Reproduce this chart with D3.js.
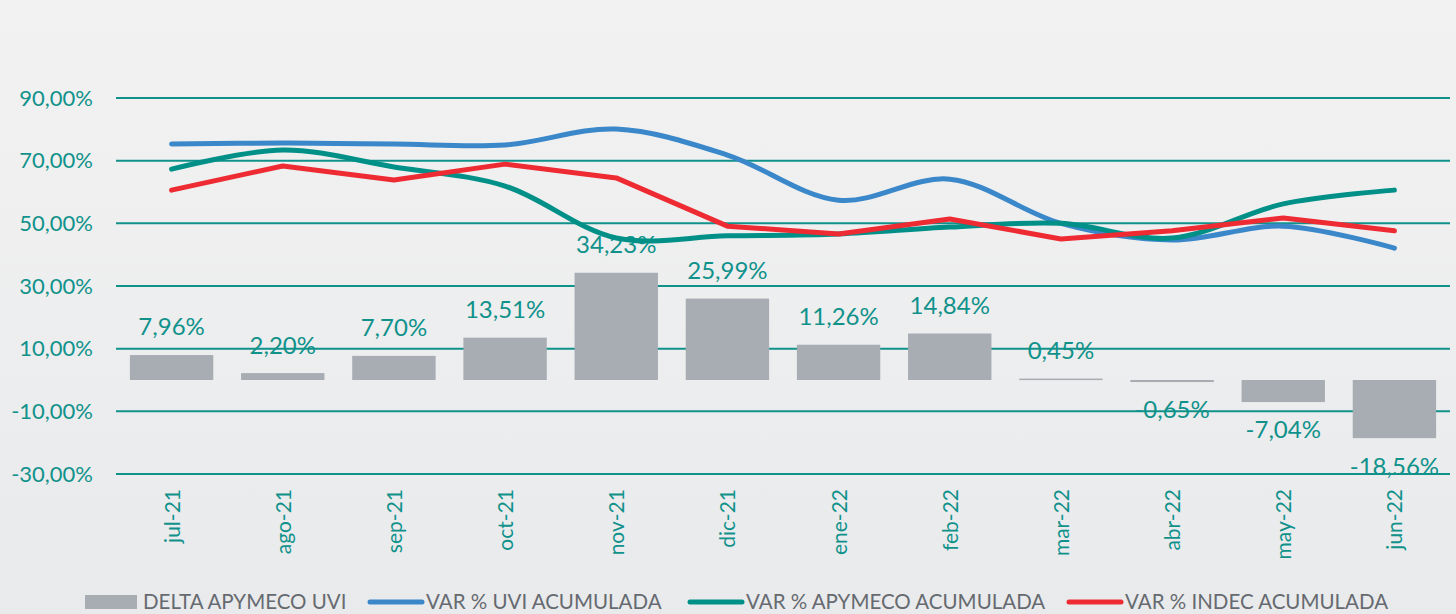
<!DOCTYPE html>
<html>
<head>
<meta charset="utf-8">
<script src="https://cdn.jsdelivr.net/npm/d3@7"></script>
<style>
  body { margin: 0; background: #eeeeef; }
  svg { display: block; font-family: Lato, "Open Sans", sans-serif; }
</style>
</head>
<body>
<div id="chart"></div>
<script>
// months on the x axis
const months = ["jul-21", "ago-21", "sep-21", "oct-21", "nov-21", "dic-21",
                "ene-22", "feb-22", "mar-22", "abr-22", "may-22", "jun-22"];
// bars
const deltaApymeco = [7.96, 2.20, 7.70, 13.51, 34.23, 25.99, 11.26, 14.84, 0.45, -0.65, -7.04, -18.56];
// lines
const uviAcum = [75.3, 75.6, 75.3, 75.0, 80.1, 71.8, 57.4, 64.1, 50.0, 44.7, 49.1, 42.1];
const apymecoAcum = [67.3, 73.4, 68.0, 61.9, 45.3, 46.0, 46.6, 48.8, 50.0, 45.3, 56.2, 60.6];
const indecAcum = [60.6, 68.3, 63.8, 68.9, 64.5, 49.1, 46.6, 51.4, 45.0, 47.6, 51.7, 47.6];
const yTicks = [-30, -10, 10, 30, 50, 70, 90];
const legendLabels = ["DELTA APYMECO UVI", "VAR % UVI ACUMULADA", "VAR % APYMECO ACUMULADA", "VAR % INDEC ACUMULADA"];

(function () {
  const width = 1456, height = 614;
  const teal = "#10928b", blue = "#3a87c9", green = "#009088", red = "#ee2b33", barGray = "#a8acb3";

  const svg = d3.select("#chart").append("svg")
    .attr("width", width)
    .attr("height", height);

  // soft background gradient
  const grad = svg.append("defs").append("linearGradient")
    .attr("id", "bg").attr("x1", 0).attr("y1", 0).attr("x2", 0).attr("y2", 1);
  grad.append("stop").attr("offset", "0%").attr("stop-color", "#f2f2f2");
  grad.append("stop").attr("offset", "100%").attr("stop-color", "#e9eaec");
  svg.append("rect").attr("width", width).attr("height", height).attr("fill", "url(#bg)");

  const x = d3.scaleBand().domain(months).range([116, 1450]).paddingInner(0.25).paddingOuter(0.125);
  const y = d3.scaleLinear().domain([-30, 90]).range([474, 98]);
  const cx = m => x(m) + x.bandwidth() / 2;
  const fmt = v => (v < 0 ? "-" : "") + d3.format(".2f")(Math.abs(v)).replace(".", ",") + "%";

  // grid lines
  svg.append("g").selectAll("line")
    .data(yTicks)
    .join("line")
    .attr("x1", 116).attr("x2", 1450)
    .attr("y1", d => y(d)).attr("y2", d => y(d))
    .attr("stroke", teal).attr("stroke-width", 2);

  // y labels
  svg.append("g").selectAll("text")
    .data(yTicks)
    .join("text")
    .attr("x", 93).attr("y", d => y(d))
    .attr("dy", "0.35em")
    .attr("text-anchor", "end")
    .attr("fill", teal)
    .style("font-size", "22px")
    .text(fmt);

  // bars
  svg.append("g").selectAll("rect")
    .data(deltaApymeco)
    .join("rect")
    .attr("x", (d, i) => x(months[i]))
    .attr("width", x.bandwidth())
    .attr("y", d => y(Math.max(0, d)))
    .attr("height", d => Math.max(1.5, Math.abs(y(d) - y(0))))
    .attr("fill", barGray);

  // bar labels
  svg.append("g").selectAll("text")
    .data(deltaApymeco)
    .join("text")
    .attr("x", (d, i) => cx(months[i]))
    .attr("y", d => d >= 0 ? y(d) - 28 : y(d) + 28)
    .attr("dy", "0.35em")
    .attr("text-anchor", "middle")
    .attr("fill", teal)
    .style("font-size", "24px")
    .text(fmt);

  // lines
  const series = [
    { values: uviAcum, color: blue, curve: d3.curveCatmullRom },
    { values: apymecoAcum, color: green, curve: d3.curveCatmullRom },
    { values: indecAcum, color: red, curve: d3.curveLinear }
  ];
  series.forEach(s => {
    const line = d3.line()
      .x((d, i) => cx(months[i]))
      .y(d => y(d))
      .curve(s.curve);
    svg.append("path")
      .datum(s.values)
      .attr("d", line)
      .attr("fill", "none")
      .attr("stroke", s.color)
      .attr("stroke-width", 5)
      .attr("stroke-linecap", "round")
      .attr("stroke-linejoin", "round");
  });

  // x labels, rotated
  svg.append("g").selectAll("text")
    .data(months)
    .join("text")
    .attr("transform", d => `translate(${cx(d) + 8},489) rotate(-90)`)
    .attr("text-anchor", "end")
    .attr("fill", teal)
    .style("font-size", "21px")
    .text(d => d);

  // legend
  const legendX = [85, 368, 688, 1067];
  const legendColors = [barGray, blue, green, red];
  const legend = svg.append("g");
  legendLabels.forEach((label, i) => {
    const g = legend.append("g").attr("transform", `translate(${legendX[i]},602)`);
    if (i === 0) {
      g.append("rect").attr("x", 0).attr("y", -7).attr("width", 52).attr("height", 14).attr("fill", barGray);
    } else {
      g.append("line").attr("x1", 2).attr("x2", 54).attr("y1", 0).attr("y2", 0)
        .attr("stroke", legendColors[i]).attr("stroke-width", 5).attr("stroke-linecap", "round");
    }
    g.append("text")
      .attr("x", 58).attr("y", 0).attr("dy", "0.35em")
      .attr("fill", "#666a70")
      .style("font-size", "20.5px")
      .text(label);
  });
})();
</script>
</body>
</html>
